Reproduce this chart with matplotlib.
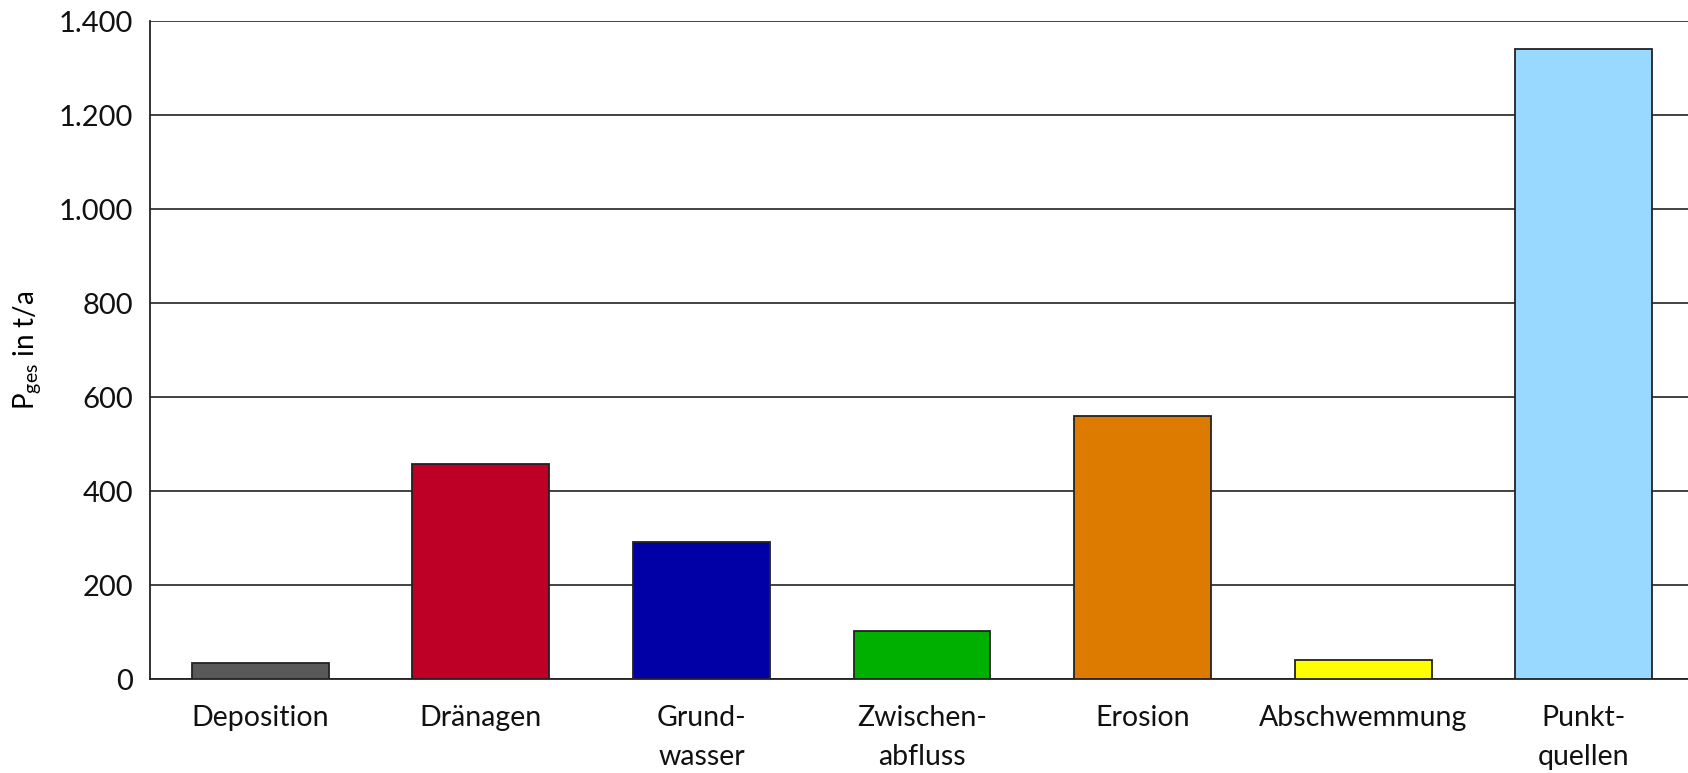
import matplotlib.pyplot as plt
from matplotlib.ticker import FuncFormatter

plt.rcParams['font.family'] = ['Lato', 'DejaVu Sans']

categories = ['Deposition', 'Dränagen', 'Grund-\nwasser', 'Zwischen-\nabfluss',
              'Erosion', 'Abschwemmung', 'Punkt-\nquellen']
values = [33, 458, 292, 102, 560, 40, 1340]
colors = ['#595959', '#BE0026', '#0000A6', '#00B000', '#DD7A00', '#FFFF00', '#99D8FF']
yticks = [0, 200, 400, 600, 800, 1000, 1200, 1400]

fig = plt.figure(figsize=(16.88, 7.73), dpi=100)
ax = fig.add_axes([150 / 1688, 1 - 679 / 773, 1544 / 1688, 658 / 773])

x = range(len(categories))
ax.bar(x, values, width=0.62, color=colors, edgecolor='#222222', linewidth=1.3, zorder=3)

ax.set_xlim(-0.5, len(categories) - 0.5)
ax.set_ylim(0, 1400)
ax.set_yticks(yticks)
ax.yaxis.set_major_formatter(FuncFormatter(lambda v, p: f'{int(v):,}'.replace(',', '.')))
ax.set_xticks(list(x))
ax.set_xticklabels(categories, linespacing=1.62)

ax.grid(axis='y', color='#222222', linewidth=1.2, zorder=0)
for s in ['top', 'right']:
    ax.spines[s].set_visible(False)
ax.spines['left'].set_color('#222222')
ax.spines['bottom'].set_color('#222222')
ax.spines['left'].set_linewidth(1.3)
ax.spines['bottom'].set_linewidth(1.3)

ax.tick_params(axis='y', length=0, pad=12, labelsize=21, labelcolor='#111111')
ax.tick_params(axis='x', length=0, pad=19, labelsize=20.5, labelcolor='#111111')

ax.set_ylabel(r'P$_{\mathregular{ges}}$ in t/a', fontsize=20, labelpad=11)

fig.savefig('out.png', dpi=100)
